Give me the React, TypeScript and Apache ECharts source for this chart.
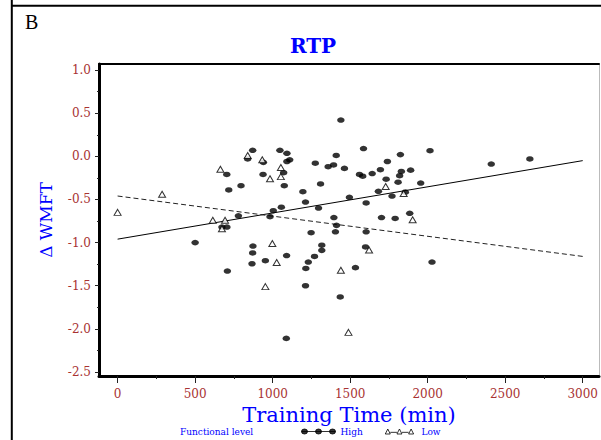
import React, { useEffect, useRef } from "react";
import * as echarts from "echarts";

// Tick labels
const xTickValues = [0, 500, 1000, 1500, 2000, 2500, 3000];
const yTickValues = [1.0, 0.5, 0.0, -0.5, -1.0, -1.5, -2.0, -2.5];

// Functional level: High (filled dots)
const highTime = [
  871, 839, 940, 1047, 1092, 1092, 1110, 704, 938, 1071,
  717, 796, 1075, 1195, 1212, 1056, 1004, 1296, 779, 983,
  1309, 1275, 1358, 1393, 1410, 1463, 1440, 1495, 1395, 1412,
  1405, 1248, 673, 705, 1586, 1824, 2015, 1740, 2410, 2659,
  1560, 1581, 1642, 1695, 1830, 1819, 1890, 1732, 1809, 1955,
  1682, 1856, 1770, 1603, 1702, 1790, 1884, 1603, 500, 873,
  871, 1317, 1317, 867, 953, 1090, 1270, 1230, 1214, 708,
  1212, 1436, 1088, 1599, 1534, 2028,
];
const highDelta = [
  0.07, -0.03, -0.07, 0.07, 0.035, -0.06, -0.04, -0.21, -0.21, -0.19,
  -0.39, -0.34, -0.34, -0.41, -0.53, -0.59, -0.63, -0.6, -0.69, -0.7,
  -0.32, -0.08, -0.12, -0.1, 0.01, -0.14, 0.42, -0.475, -0.71, -0.8,
  -0.875, -0.885, -0.82, -0.82, 0.09, 0.02, 0.065, -0.06, -0.09, -0.03,
  -0.21, -0.23, -0.2, -0.155, -0.175, -0.225, -0.16, -0.265, -0.3, -0.31,
  -0.405, -0.415, -0.46, -0.54, -0.71, -0.72, -0.66, -0.875, -1.0, -1.04,
  -1.12, -1.03, -1.09, -1.245, -1.21, -1.15, -1.16, -1.225, -1.3, -1.33,
  -1.5, -1.63, -2.11, -1.05, -1.29, -1.225,
];

// Functional level: Low (open triangles)
const lowTime = [
  0, 287, 614, 693, 673, 663, 839, 933, 1053, 1053,
  983, 1729, 1845, 1903, 998, 1026, 1440, 953, 1489, 1622,
];
const lowDelta = [
  -0.65, -0.44, -0.74, -0.74, -0.84, -0.15, 0.01, -0.04, -0.13, -0.235,
  -0.26, -0.35, -0.43, -0.735, -1.01, -1.23, -1.32, -1.51, -2.04, -1.085,
];

// Regression lines
const fitTime = [0, 3000];
const highFit = [-0.96, -0.05];
const lowFit = [-0.46, -1.16];

const serif = "'DejaVu Serif', 'Liberation Serif', serif";
const tickRed = "#a83232";
const blue = "#0000ff";

const highIcon =
  "path://M0,3L34,3M0,3a3,2.5 0 1,0 6,0a3,2.5 0 1,0 -6,0M14,3a3,2.5 0 1,0 6,0a3,2.5 0 1,0 -6,0M28,3a3,2.5 0 1,0 6,0a3,2.5 0 1,0 -6,0";
const lowIcon =
  "path://M0,6L3,0L6,6ZM6,4L14,4M14,6L17,0L20,6ZM20,4L28,4M28,6L31,0L34,6Z";

export default function App() {
  const ref = useRef<HTMLDivElement>(null);
  useEffect(() => {
    if (!ref.current) return;
    const chart = echarts.init(ref.current, null, { renderer: "svg" });
    const xMin = -120;
    const xMax = 3105;
    const yMin = -2.546;
    const yMax = 1.07;
    const option: any = {
      animation: false,
      backgroundColor: "#ffffff",
      title: {
        text: "RTP",
        left: 313,
        top: 36,
        textAlign: "center",
        padding: 0,
        textStyle: { color: blue, fontFamily: serif, fontWeight: "bold", fontSize: 20 },
      },
      grid: { left: 99, right: 1, top: 64, bottom: 64, containLabel: false },
      legend: {
        left: 301,
        top: 427,
        itemGap: 22,
        itemWidth: 34,
        itemHeight: 5,
        padding: 0,
        textStyle: { color: blue, fontFamily: serif, fontSize: 9 },
        data: [
          { name: "High", icon: highIcon, itemStyle: { color: "#000", borderColor: "#000", borderWidth: 1 } },
          { name: "Low", icon: lowIcon, itemStyle: { color: "#fff", borderColor: "#000", borderWidth: 1 } },
        ],
      },
      xAxis: [
        {
          type: "value",
          min: xMin,
          max: xMax,
          splitNumber: 5,
          name: "Training Time (min)",
          nameLocation: "middle",
          nameGap: 23,
          nameTextStyle: { color: blue, fontFamily: serif, fontWeight: "normal", fontSize: 21 },
          axisLine: { show: true, onZero: false, lineStyle: { color: "#000", width: 3 } },
          axisTick: { show: true, length: 7, customValues: xTickValues, lineStyle: { color: "#222", width: 1 } },
          minorTick: { show: true, splitNumber: 2, length: 3, lineStyle: { color: "#222", width: 1 } },
          axisLabel: {
            customValues: xTickValues,
            margin: 12,
            color: tickRed,
            fontFamily: serif,
            fontSize: 12,
            formatter: (v: number) => String(v),
          },
          splitLine: { show: false },
          minorSplitLine: { show: false },
        },
        {
          type: "value",
          position: "top",
          min: xMin,
          max: xMax,
          axisLine: { show: true, onZero: false, lineStyle: { color: "#000", width: 2 } },
          axisTick: { show: false },
          axisLabel: { show: false },
          splitLine: { show: false },
        },
      ],
      yAxis: [
        {
          type: "value",
          min: yMin,
          max: yMax,
          splitNumber: 7,
          name: "\u0394 WMFT",
          nameLocation: "middle",
          nameRotate: 90,
          nameGap: 45,
          nameTextStyle: { color: blue, fontFamily: serif, fontSize: 17 },
          axisLine: { show: true, onZero: false, lineStyle: { color: "#000", width: 3 } },
          axisTick: { show: true, length: 4, customValues: yTickValues, lineStyle: { color: "#222", width: 1 } },
          minorTick: { show: true, splitNumber: 2, length: 2, lineStyle: { color: "#222", width: 1 } },
          axisLabel: {
            customValues: yTickValues,
            margin: 8,
            color: tickRed,
            fontFamily: serif,
            fontSize: 12,
            formatter: (v: number) => v.toFixed(1),
          },
          splitLine: { show: false },
        },
        {
          type: "value",
          position: "right",
          min: yMin,
          max: yMax,
          axisLine: { show: true, onZero: false, lineStyle: { color: "#bbbbbb", width: 1 } },
          axisTick: { show: false },
          axisLabel: { show: false },
          splitLine: { show: false },
        },
      ],
      series: [
        {
          name: "High",
          type: "scatter",
          symbol: "circle",
          symbolSize: [7.5, 5.5],
          itemStyle: { color: "#000" },
          data: highTime.map((t, i) => [t, highDelta[i]]),
          z: 3,
        },
        {
          name: "Low",
          type: "scatter",
          symbol: "triangle",
          symbolSize: [7, 6],
          itemStyle: { color: "#fff", borderColor: "#000", borderWidth: 1 },
          data: lowTime.map((t, i) => [t, lowDelta[i]]),
          z: 4,
        },
        {
          name: "High fit",
          type: "line",
          showSymbol: false,
          symbol: "none",
          silent: true,
          lineStyle: { color: "#000", width: 1, type: "solid" },
          data: fitTime.map((t, i) => [t, highFit[i]]),
          z: 2,
        },
        {
          name: "Low fit",
          type: "line",
          showSymbol: false,
          symbol: "none",
          silent: true,
          lineStyle: { color: "#222", width: 1, type: [5, 3] },
          data: fitTime.map((t, i) => [t, lowFit[i]]),
          z: 2,
        },
      ],
      graphic: [
        { type: "line", shape: { x1: 11.8, y1: 0, x2: 11.8, y2: 440 }, style: { stroke: "#000", lineWidth: 2 } },
        { type: "line", shape: { x1: 11, y1: 5.7, x2: 601, y2: 5.7 }, style: { stroke: "#000", lineWidth: 2 } },
        {
          type: "text",
          x: 25,
          y: 12,
          style: { text: "B", fill: "#000", font: "20px 'Liberation Serif', serif" },
        },
        {
          type: "text",
          x: 180,
          y: 432,
          style: {
            text: "Functional level",
            fill: blue,
            font: "9px 'DejaVu Serif', serif",
            verticalAlign: "middle",
          },
        },
      ],
    };
    chart.setOption(option);
    return () => chart.dispose();
  }, []);
  return <div ref={ref} style={{ width: 601, height: 440, position: "absolute", left: 0, top: 0 }} />;
}
